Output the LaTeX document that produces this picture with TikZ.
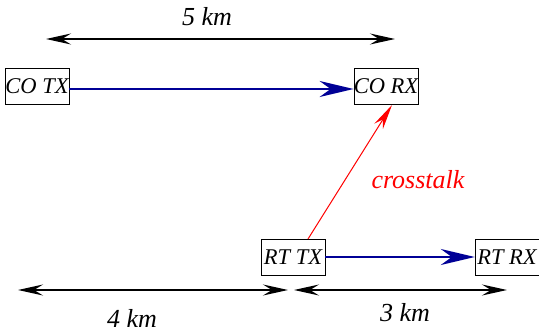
\documentclass[tikz,border=0pt]{standalone}
\usepackage{fontspec}
\setmainfont{Liberation Serif}
\usetikzlibrary{arrows.meta}
\definecolor{navy}{RGB}{0,0,150}
\begin{document}
\begin{tikzpicture}[x=1pt,y=-1pt,
  box/.style={draw, thin, minimum width=64pt, minimum height=36pt, inner sep=0pt, font=\fontsize{22.5}{26}\selectfont\itshape},
  lbl/.style={font=\fontsize{26}{30}\selectfont\itshape},
  dim/.style={line width=1.3pt, {Stealth[length=25pt,width=11pt,inset=9pt]}-{Stealth[length=25pt,width=11pt,inset=9pt]}},
  sig/.style={navy, line width=2pt, -{Stealth[length=34pt,width=16pt,inset=11pt]}},
  xt/.style={red, line width=1pt, -{Stealth[length=25pt,width=10pt,inset=8pt]}}]
\useasboundingbox (0,0) rectangle (539,334);
\node[box] (cotx) at (37,86) {CO TX};
\node[box] (corx) at (386,86) {CO RX};
\node[box] (rttx) at (293,257) {RT TX};
\node[box] (rtrx) at (507,257) {RT RX};
\coordinate (d5a) at (46,39);
\coordinate (d5b) at (395,39);
\coordinate (d4a) at (18,290);
\coordinate (d4b) at (288,290);
\coordinate (d3a) at (294,290);
\coordinate (d3b) at (507,290);
\draw[dim] (d5a) -- (d5b);
\draw[dim] (d4a) -- (d4b);
\draw[dim] (d3a) -- (d3b);
\node[lbl] (l5) at (207,17) {5 km};
\node[lbl] (l4) at (132,318) {4 km};
\node[lbl] (l3) at (405,313) {3 km};
\draw[sig] (cotx.east |- 0,89) -- (corx.west |- 0,89);
\draw[sig] (rttx) -- (rtrx);
\draw[xt] (308,239) -- (392,105);
\node[lbl, red] (xtl) at (418,180) {crosstalk};
\end{tikzpicture}
\end{document}
